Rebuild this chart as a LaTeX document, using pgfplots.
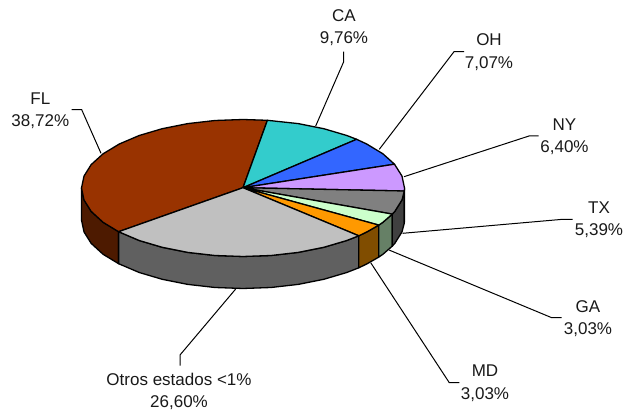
\documentclass[border=0pt]{standalone}
\usepackage{fontspec}
\setmainfont{Liberation Sans}
\usepackage{xcolor}
\usepackage{pgfplots}
\pgfplotsset{compat=1.18}

\definecolor{cFL}{HTML}{993300}
\definecolor{cCA}{HTML}{33CCCC}
\definecolor{cOH}{HTML}{3366FF}
\definecolor{cNY}{HTML}{CC99FF}
\definecolor{cTX}{HTML}{808080}
\definecolor{cGA}{HTML}{CCFFCC}
\definecolor{cMD}{HTML}{FF9900}
\definecolor{cOT}{HTML}{C0C0C0}
\definecolor{sFL}{HTML}{4D1A00}
\definecolor{sNY}{HTML}{664D80}
\definecolor{sTX}{HTML}{404040}
\definecolor{sGA}{HTML}{668066}
\definecolor{sMD}{HTML}{804D00}
\definecolor{sOT}{HTML}{606060}

\pgfplotsset{
  slice/.style={fill=#1, draw=black, line width=1.3pt, line join=round, no marks},
  leader/.style={draw=black, line width=1pt, no marks},
}
\newcommand{\lab}[3]{\node[align=center, inner sep=0pt, text=black!90,
  font=\fontsize{17}{22.4}\selectfont] at (axis cs:#1,#2) {#3};}

\begin{document}
\begin{tikzpicture}
\begin{axis}[
  scale only axis, width=625pt, height=414pt,
  xmin=0, xmax=625, ymin=0, ymax=414,
  y dir=reverse,
  hide axis,
  clip=false,
]
% keeps the page as large as the whole axis (hide axis drops it from the bbox)
\path (axis cs:0,0) rectangle (axis cs:625,414);
% side walls (pixel coordinates)
\addplot[slice=sFL] coordinates {
  (81.5,188) (84,199.9) (91.2,211.4) (103.1,222.3) (118.6,231.7)
  (118.6,263.7) (103.1,254.3) (91.2,243.4) (84,231.9) (81.5,220)
} --cycle;
\addplot[slice=sOT] coordinates {
  (118.6,231.7) (139.2,240.5) (162.2,247.3) (187.8,252.4) (215,255.5) (243,256.5)
  (271,255.5) (298.2,252.4) (323.8,247.3) (346.8,240.5) (358.8,235.8)
  (358.8,267.8) (346.8,272.5) (323.8,279.3) (298.2,284.4) (271,287.5) (243,288.5)
  (215,287.5) (187.8,284.4) (162.2,279.3) (139.2,272.5) (118.6,263.7)
} --cycle;
\addplot[slice=sMD] coordinates {
  (358.8,235.8) (366.7,232) (378.8,225.1)
  (378.8,257.1) (366.7,264) (358.8,267.8)
} --cycle;
\addplot[slice=sGA] coordinates {
  (378.8,225.1) (382.9,222.3) (392.3,214.1)
  (392.3,246.1) (382.9,254.3) (378.8,257.1)
} --cycle;
\addplot[slice=sTX] coordinates {
  (392.3,214.1) (394.8,211.4) (402,199.9) (404.3,191)
  (404.3,223) (402,231.9) (394.8,243.4) (392.3,246.1)
} --cycle;
\addplot[slice=sNY] coordinates {
  (404.3,191) (404.5,188) (404.5,220) (404.3,223)
} --cycle;
% top faces
\addplot[slice=cFL] coordinates {
  (243,187.7) (267.4,120.3) (243,119.5) (215,120.5) (187.8,123.6) (162.2,128.7)
  (139.2,135.5) (119.3,144) (103.1,153.8) (91.2,164.6) (84,176.1) (81.5,188)
  (84,199.9) (91.2,211.4) (103.1,222.3) (118.6,231.7)
} --cycle;
\addplot[slice=cCA] coordinates {
  (243,187.7) (356.6,139.3) (346.8,135.5) (323.8,128.7) (298.2,123.6) (267.4,120.3)
} --cycle;
\addplot[slice=cOH] coordinates {
  (243,187.7) (394.5,164.2) (382.9,153.8) (366.7,144) (356.6,139.3)
} --cycle;
\addplot[slice=cNY] coordinates {
  (243,187.7) (404.3,191) (404.5,188) (402,176.1) (394.5,164.2)
} --cycle;
\addplot[slice=cTX] coordinates {
  (243,187.7) (392.3,214.1) (394.8,211.4) (402,199.9) (404.3,191)
} --cycle;
\addplot[slice=cGA] coordinates {
  (243,187.7) (378.8,225.1) (382.9,222.3) (392.3,214.1)
} --cycle;
\addplot[slice=cMD] coordinates {
  (243,187.7) (358.8,235.8) (366.7,232) (378.8,225.1)
} --cycle;
\addplot[slice=cOT] coordinates {
  (243,187.7) (118.6,231.7) (139.2,240.5) (162.2,247.3) (187.8,252.4) (215,255.5)
  (243,256.5) (271,255.5) (298.2,252.4) (323.8,247.3) (346.8,240.5) (358.8,235.8)
} --cycle;
% leader lines
\addplot[leader] coordinates {(343.7,51.7) (343.7,61.7) (315.7,126)};
\addplot[leader] coordinates {(464,51.7) (454,51.7) (379.3,149.3)};
\addplot[leader] coordinates {(538.7,136) (529,136) (404,176.7)};
\addplot[leader] coordinates {(572.7,219.3) (562.7,219.3) (402.7,233.3)};
\addplot[leader] coordinates {(561.7,317.7) (551.7,317.7) (389,250)};
\addplot[leader] coordinates {(459.3,382.7) (449.3,382.7) (370.7,262.7)};
\addplot[leader] coordinates {(71.7,109.7) (81.7,109.7) (101,153.3)};
\addplot[leader] coordinates {(180,365.7) (180,355) (235.7,289)};
% labels
\lab{344}{27.5}{CA\\9,76\%}
\lab{489}{52.3}{OH\\7,07\%}
\lab{564.5}{136.8}{NY\\6,40\%}
\lab{599}{220}{TX\\5,39\%}
\lab{588}{318.5}{GA\\3,03\%}
\lab{485}{383.3}{MD\\3,03\%}
\lab{40.3}{110.5}{FL\\38,72\%}
\lab{179}{391.3}{Otros estados <1\%\\26,60\%}
\end{axis}
\end{tikzpicture}
\end{document}
